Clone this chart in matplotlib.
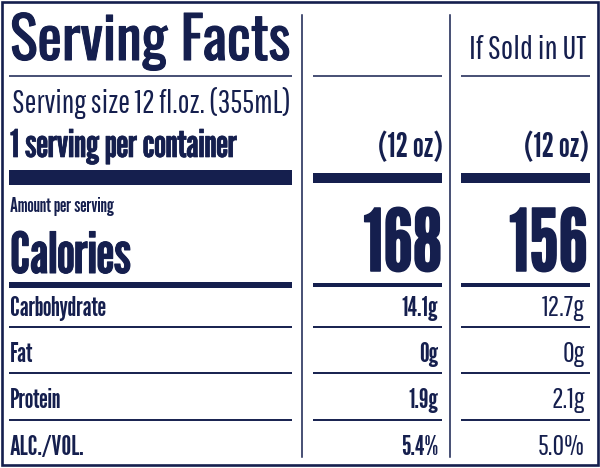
import matplotlib
matplotlib.use('Agg')
import matplotlib.pyplot as plt
import matplotlib.patheffects as pe
from matplotlib.patches import Rectangle
from matplotlib.font_manager import FontProperties
from matplotlib.textpath import TextPath

# label content
title = 'Serving Facts'
serving_size = 'Serving size 12 fl.oz. (355mL)'
servings = '1 serving per container'
col_heads = ['', 'If Sold in UT']
col_sizes = ['(12 oz)', '(12 oz)']
calories = [168, 156]
nutrients = ['Carbohydrate', 'Fat', 'Protein', 'ALC./VOL.']
standard = ['14.1g', '0g', '1.9g', '5.4%']
utah = ['12.7g', '0g', '2.1g', '5.0%']

NAVY = '#151f4e'
TITLE = ['Oswald', 'Barlow Condensed', 'DejaVu Sans']
BOLD = ['League Gothic', 'Barlow Condensed', 'DejaVu Sans']
LIGHT = ['Pathway Gothic One', 'Barlow Condensed', 'DejaVu Sans']

fig = plt.figure(figsize=(6, 4.68), dpi=100)
ax = fig.add_axes([0, 0, 1, 1])
ax.set_xlim(0, 600)
ax.set_ylim(468, 0)
ax.axis('off')


def fit(s, fam, weight, width, cap):
    # size in pt so the ink fits the box (100 dpi)
    prop = FontProperties(family=fam, weight=weight)
    w1 = TextPath((0, 0), s, size=1, prop=prop).get_extents().width
    c1 = TextPath((0, 0), 'H', size=1, prop=prop).get_extents().height
    sizes = [cap / c1]
    if width:
        sizes.append(width / w1)
    return min(sizes) * 72 / 100


def put(s, x, y, width=None, cap=None, bold=True, ha='left', size=None, fam=None):
    fam = fam or (BOLD if bold else LIGHT)
    weight = 'bold' if bold else 'normal'
    if size is None:
        size = fit(s, fam, weight, width, cap)
    t = ax.text(x, y, s, ha=ha, va='baseline', color=NAVY, family=fam,
                weight=weight, fontsize=size)
    if bold and size > 25:
        # a little heavier, the label uses a black condensed face
        t.set_path_effects([pe.withStroke(linewidth=size * 0.018, foreground=NAVY)])
    return size


def hline(y, lw, segs):
    for x0, x1 in segs:
        ax.plot([x0, x1], [y, y], color=NAVY, lw=lw, solid_capstyle='butt')


def bar(y0, y1, segs):
    for x0, x1 in segs:
        ax.add_patch(Rectangle((x0, y0), x1 - x0, y1 - y0, color=NAVY, lw=0))


left = (9, 292)
mid = (313, 442)
right = (461, 590)

# frame and column dividers
ax.add_patch(Rectangle((1.5, 1.5), 596, 463.5, fill=False, ec=NAVY, lw=1.9))
for x in (302, 450):
    ax.plot([x, x], [15, 457], color=NAVY, lw=1.1)

hline(76, 1.1, [left, mid, right])
bar(170, 185, [left])
bar(173, 183, [mid, right])
bar(282, 288, [left])
bar(283, 287, [mid, right])
for y in (327, 373, 420):
    hline(y, 1.4, [left, mid, right])

# header text
put(title, 10, 60, width=279, cap=47, fam=TITLE)
put(serving_size, 12, 113, width=276, cap=27, bold=False)
put(servings, 10, 157, width=233, cap=28)
put(col_heads[1], 586, 59, width=114, cap=31, bold=False, ha='right')
s12 = put(col_sizes[0], 443, 157, width=70, cap=25, ha='right')
put(col_sizes[1], 589, 157, ha='right', size=s12)

# calories block
put('Amount per serving', 10, 212, width=119, cap=15)
put('Calories', 10, 273, width=118, cap=48)
sc = put(str(calories[0]), 442, 271, width=89, cap=63, ha='right')
put(str(calories[1]), 588, 271, ha='right', size=sc)

# nutrient rows
rows_y = [316, 362, 408, 455]
sr = put(nutrients[0], 10, rows_y[0], width=110, cap=20)
sv = fit(utah[0], LIGHT, 'normal', None, 20)
for name, a, b, y in zip(nutrients, standard, utah, rows_y):
    if name != nutrients[0]:
        put(name, 10, y, size=sr)
    put(a, 438, y, ha='right', size=sr)
    put(b, 585, y, ha='right', size=sv, bold=False)

fig.savefig('out.png', dpi=100)
